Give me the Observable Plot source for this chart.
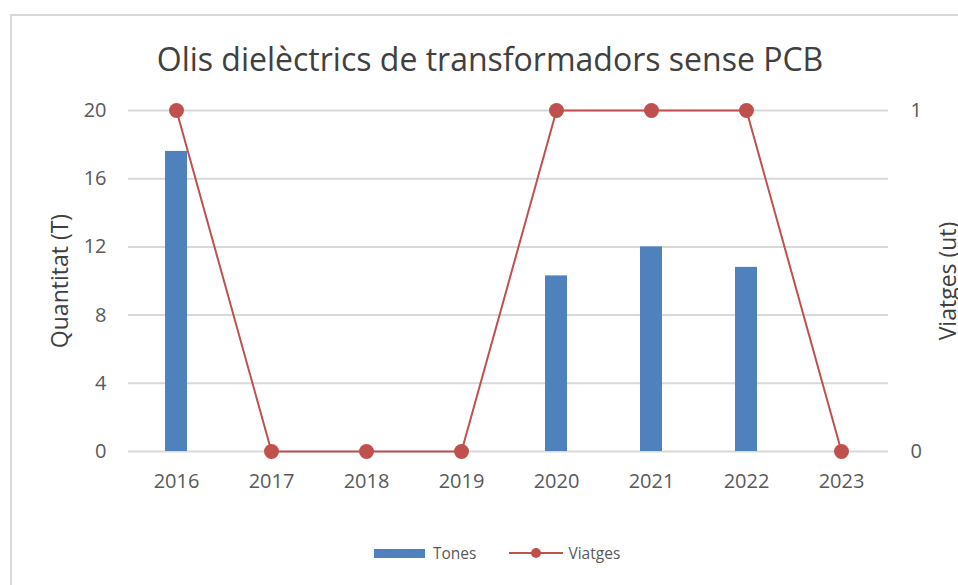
<!DOCTYPE html>
<html>
<head>
<meta charset="utf-8">
<script src="https://cdn.jsdelivr.net/npm/d3@7"></script>
<script src="https://cdn.jsdelivr.net/npm/@observablehq/plot@0.6"></script>
<style>
  html, body { margin: 0; padding: 0; background: #fff; overflow: hidden; }
  #wrap { position: relative; width: 958px; height: 585px; overflow: hidden; font-family: "Open Sans", sans-serif; color: #595959; }
  #frame { position: absolute; left: 10px; top: 14px; width: 1000px; height: 700px; border: 2px solid #d9d9d9; box-sizing: border-box; }
  #title { position: absolute; left: 0; width: 980px; top: 37px; text-align: center; font-size: 32px; line-height: 44px; color: #404040; white-space: nowrap; }
  #chart { position: absolute; left: 0; top: 0; }
  #legend { position: absolute; top: 541px; left: 374px; font-size: 15.5px; line-height: 24px; display: flex; align-items: center; color: #595959; }
  .sw { display: inline-block; }
</style>
</head>
<body>
<div id="wrap">
  <div id="frame"></div>
  <div id="chart"></div>
  <div id="title">Olis dielèctrics de transformadors sense PCB</div>
  <div id="legend">
    <span class="sw" style="width:51px;height:9px;background:#4f81bd;margin-right:8px"></span>
    <span>Tones</span>
    <svg width="54" height="14" style="margin-left:33px;margin-right:5px"><line x1="0" y1="7" x2="54" y2="7" stroke="#c0504d" stroke-width="2"/><circle cx="27" cy="7" r="5" fill="#c0504d"/></svg>
    <span>Viatges</span>
  </div>
</div>
<script>
const years = ["2016","2017","2018","2019","2020","2021","2022","2023"];
const tones = [17.6, 0, 0, 0, 10.3, 12.0, 10.8, 0];
const viatges = [1, 0, 0, 0, 1, 1, 1, 0];
const leftTicks = [0, 4, 8, 12, 16, 20];
const rightTicks = [0, 1];
const leftMax = 20;
const rightMax = 1;

const data = years.map((y, i) => ({year: y, tones: tones[i], viatges: viatges[i]}));
const k = leftMax / rightMax;

const chart = Plot.plot({
  width: 958,
  height: 585,
  marginLeft: 128,
  marginRight: 70,
  marginTop: 110,
  marginBottom: 134,
  style: {fontFamily: "'Open Sans', sans-serif", fontSize: "20px", color: "#595959", background: "transparent"},
  x: {domain: years, paddingInner: 0.77, paddingOuter: 0.385, label: null},
  y: {domain: [0, leftMax], label: null},
  marks: [
    Plot.gridY(leftTicks, {stroke: "#d9d9d9", strokeOpacity: 1, strokeWidth: 2}),
    Plot.barY(data, {x: "year", y: "tones", fill: "#4f81bd"}),
    Plot.line(data, {x: "year", y: d => d.viatges * k, stroke: "#c0504d", strokeWidth: 2}),
    Plot.dot(data, {x: "year", y: d => d.viatges * k, r: 7.5, fill: "#c0504d"}),
    Plot.axisY(leftTicks, {anchor: "left", tickSize: 0, tickPadding: 22, label: null, fill: "#595959", fontSize: 20}),
    Plot.axisY(rightTicks.map(v => v * k), {anchor: "right", tickSize: 0, tickPadding: 22, tickFormat: v => String(v / k), label: null, fill: "#595959", fontSize: 20}),
    Plot.axisX({tickSize: 0, tickPadding: 22, label: null, fill: "#595959", fontSize: 20}),
    Plot.text(["Quantitat (T)"], {frameAnchor: "left", textAnchor: "middle", dx: -68, rotate: -90, fontSize: 23, fill: "#404040"}),
    Plot.text(["Viatges (ut)"], {frameAnchor: "right", textAnchor: "middle", dx: 60, rotate: -90, fontSize: 23, fill: "#404040"})
  ]
});
document.getElementById("chart").appendChild(chart);
</script>
</body>
</html>
